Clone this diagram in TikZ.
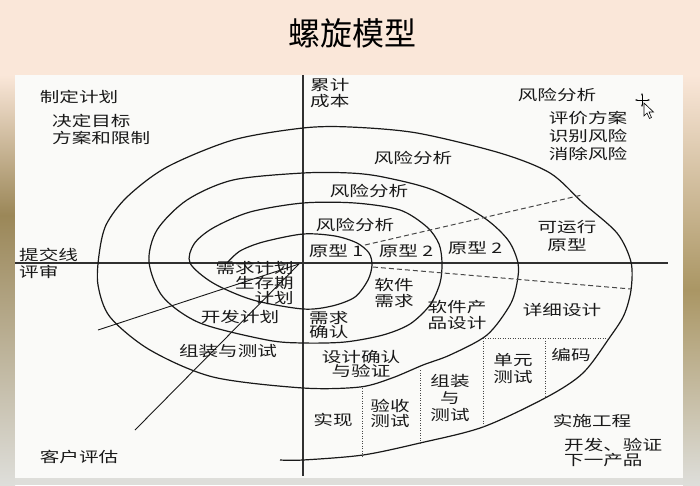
\documentclass[tikz,border=0pt]{standalone}
\usepackage{fontspec}
\usetikzlibrary{arrows.meta}
\newfontfamily\cjk[FakeStretch=1.35]{Noto Sans CJK SC}
\newfontfamily\cjktitle{Noto Sans CJK SC}
\definecolor{peach}{RGB}{250,231,217}
\definecolor{olivebar}{RGB}{155,135,88}
\definecolor{brownbar}{RGB}{170,150,100}
\definecolor{framegray}{RGB}{222,222,218}
\definecolor{panel}{RGB}{250,250,248}
\definecolor{ink}{RGB}{25,25,25}
\tikzset{
  lbl/.style={font={\cjk\fontsize{14.5}{#1}\selectfont}, text=ink, inner sep=0pt, align=center},
  lbl/.default=17,
  spiral/.style={draw=ink, line width=1.2pt},
  axis/.style={draw=ink!90, line width=1.4pt},
  thin/.style={draw=ink, line width=0.9pt},
  dashline/.style={draw=ink!80, line width=1pt, dash pattern=on 5pt off 3pt},
  dotline/.style={draw=ink!80, line width=1pt, dash pattern=on 1pt off 1.5pt},
}
\begin{document}
\begin{tikzpicture}[x=1pt,y=-1pt]
\useasboundingbox (0,0) rectangle (700,485);
% background frame
\fill[peach] (0,0) rectangle (700,485);
\shade[top color=peach, bottom color=olivebar] (0,75) rectangle (15,215);
\shade[top color=olivebar, bottom color=framegray] (0,215) rectangle (15,485);
\shade[top color=peach, bottom color=brownbar] (683,75) rectangle (700,290);
\shade[top color=brownbar, bottom color=framegray] (683,290) rectangle (700,485);
\fill[framegray] (15,478) rectangle (683,485);
\fill[panel] (15,75) rectangle (683,478);

% title
\node[font={\cjktitle\fontsize{32}{32}\selectfont}, text=black, inner sep=0pt] (title) at (352,33) {螺旋模型};

% axes
\draw[axis] (15,263) -- (668,263);
\draw[axis] (303,75) -- (303,476);

% spiral
\draw[spiral] plot[smooth, tension=0.5] coordinates {
 (227,263) (240,251) (263,242) (303,234) (335,236) (357,243) (369,253) (372,265)
 (368,280) (355,297) (332,306) (303,309) (253,300) (213,283) (190,263)
 (194,244) (213,228) (250,212) (303,203) (355,203) (400,210) (427,227) (439,244) (442,263)
 (440,283) (430,305) (410,324) (383,335) (345,342) (303,343) (267,340) (200,323) (163,297) (149,262)
 (157,230) (187,200) (233,180) (303,173) (350,173) (383,177) (433,190) (483,217) (508,240) (518,263)
 (517,283) (510,305) (487,335) (450,355) (423,365) (392,378) (360,387) (303,388) (213,377) (150,350) (110,317) (98,285)
 (99,255) (106,225) (127,197) (167,167) (233,140) (303,128) (350,127) (417,133) (500,153) (550,173) (583,203) (617,233) (631,262)
 (631,290) (624,315) (610,337) (583,373) (547,397) (483,427) (420,443) (363,455) (303,460) (280,460)};

% straight lines from the origin
\coordinate (o) at (299,264);
\coordinate (e1) at (98,330);
\coordinate (e2) at (135,430);
\draw[thin] (o) -- (e1);
\draw[thin] (o) -- (e2);

% dashed lines
\coordinate (d1a) at (365,245);
\coordinate (d1b) at (582,195);
\coordinate (d2a) at (373,267);
\coordinate (d2b) at (631,289);
\draw[dashline] (d1a) -- (d1b);
\draw[dashline] (d2a) -- (d2b);

% dotted cells
\coordinate (h1) at (485,338);
\coordinate (h2) at (608,338);
\draw[dotline] (h1) -- (h2);
\draw[dotline] (483,338) -- (483,427);
\draw[dotline] (545,338) -- (545,397);
\draw[dotline] (420,370) -- (420,443);
\draw[dotline] (362,388) -- (362,456);

% labels
\node[lbl=16, anchor=west, align=left] (cost) at (310,93) {累计\\成本};
\node[lbl] (plan) at (79,97) {制定计划};
\node[lbl, anchor=west, align=left] (goal) at (52,129.5) {决定目标\\方案和限制};
\node[lbl] (riskT) at (557,95) {风险分析};
\node[lbl=18] (riskL) at (588,136) {评价方案\\识别风险\\消除风险};
\node[lbl] (r1) at (413,158) {风险分析};
\node[lbl] (r2) at (369,191) {风险分析};
\node[lbl] (r3) at (355,225) {风险分析};
\node[lbl] (p1) at (336,251) {原型 1};
\node[lbl] (p2) at (406,251) {原型 2};
\node[lbl] (p3) at (475,248) {原型 2};
\node[lbl=18] (p4) at (567,236) {可运行\\原型};
\node[lbl, anchor=west, align=left] (review) at (19,263.5) {提交线\\评审};
\node[lbl=15, anchor=east, align=right] (life) at (294,283) {需求计划\\生存期\\计划};
\node[lbl] (dev) at (240,317) {开发计划};
\node[lbl] (asm) at (228,351) {组装与测试};
\node[lbl=14, anchor=west, align=left] (reqc) at (309,325) {需求\\确认};
\node[lbl=16] (req) at (394,293) {软件\\需求};
\node[lbl=16] (prod) at (457,315) {软件产\\品设计};
\node[lbl] (detail) at (562,310) {详细设计};
\node[lbl=14] (ver) at (361,364) {设计确认\\与验证};
\node[lbl] (impl) at (333,420) {实现};
\node[lbl=15] (acc) at (390,413) {验收\\测试};
\node[lbl=17] (asm2) at (450,398) {组装\\与\\测试};
\node[lbl=17] (unit) at (513,368) {单元\\测试};
\node[lbl] (code) at (571,355) {编码};
\node[lbl] (eng) at (592,421) {实施工程};
\node[lbl=15, anchor=west, align=left] (next) at (564,452.5) {开发、验证\\下一产品};
\node[lbl] (cust) at (79,457) {客户评估};

% mouse cursor
\draw[line width=0.7pt, {Stealth[length=2.5pt]}-{Stealth[length=2.5pt]}] (635,100) -- (650,100);
\draw[line width=0.7pt, {Stealth[length=2.5pt]}-{Stealth[length=2.5pt]}] (642,93) -- (642,107);
\filldraw[fill=white, draw=black, line width=0.6pt] (644,103) -- ++(0,13) -- ++(3,-3) -- ++(2.5,5.5) -- ++(2,-1) -- ++(-2.5,-5.5) -- ++(4.5,0) -- cycle;
\end{tikzpicture}
\end{document}
